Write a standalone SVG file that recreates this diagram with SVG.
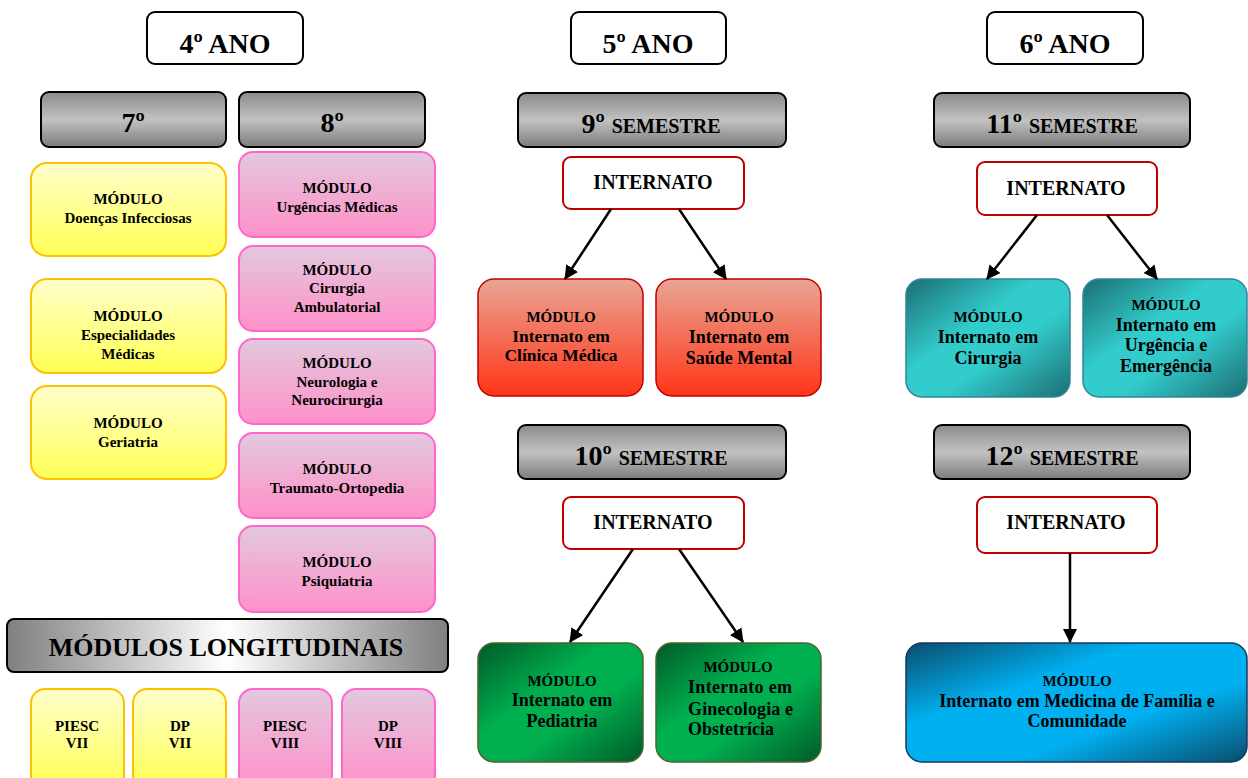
<svg xmlns="http://www.w3.org/2000/svg" width="1248" height="778" viewBox="0 0 1248 778" font-family="'Liberation Serif', 'DejaVu Serif', serif">
<defs>
<linearGradient id="gYel" x1="0" y1="0" x2="0" y2="1"><stop offset="0" stop-color="#FFFFCC"/><stop offset="1" stop-color="#FFFF55"/></linearGradient>
<linearGradient id="gPink" x1="0" y1="0" x2="0" y2="1"><stop offset="0" stop-color="#E2C8DE"/><stop offset="1" stop-color="#FF90C8"/></linearGradient>
<linearGradient id="gGray" x1="0" y1="0" x2="0" y2="1"><stop offset="0" stop-color="#8A8A8A"/><stop offset="0.5" stop-color="#C2C2C2"/><stop offset="1" stop-color="#7C7C7C"/></linearGradient>
<linearGradient id="gLong" x1="0" y1="0" x2="1" y2="0"><stop offset="0" stop-color="#808080"/><stop offset="0.5" stop-color="#FFFFFF"/><stop offset="1" stop-color="#808080"/></linearGradient>
<linearGradient id="gRed" x1="0" y1="0" x2="0" y2="1"><stop offset="0" stop-color="#E9A595"/><stop offset="1" stop-color="#FF3517"/></linearGradient>
<linearGradient id="gTeal" x1="0" y1="0" x2="1" y2="1"><stop offset="0" stop-color="#1B6E73"/><stop offset="0.4" stop-color="#33CCCC"/><stop offset="0.6" stop-color="#33CCCC"/><stop offset="1" stop-color="#1B6E73"/></linearGradient>
<linearGradient id="gGreen" x1="0" y1="0" x2="1" y2="1"><stop offset="0" stop-color="#005A28"/><stop offset="0.4" stop-color="#00B050"/><stop offset="0.6" stop-color="#00B050"/><stop offset="1" stop-color="#005A28"/></linearGradient>
<linearGradient id="gBlue" x1="0" y1="0" x2="1" y2="1"><stop offset="0" stop-color="#0A4D6E"/><stop offset="0.35" stop-color="#00B0F0"/><stop offset="0.65" stop-color="#00B0F0"/><stop offset="1" stop-color="#0A4D6E"/></linearGradient>
<marker id="arrB" markerWidth="14" markerHeight="14" refX="13" refY="7" orient="auto" markerUnits="userSpaceOnUse" viewBox="0 0 14 14"><path d="M0,0 L14,7 L0,14 z" fill="#000"/></marker>
</defs>
<style>
text{font-family:'Liberation Serif','DejaVu Serif',serif;font-weight:bold;fill:#000;text-anchor:middle}
.hdr{fill:#fff;stroke:#000;stroke-width:2}
.gray{fill:url(#gGray);stroke:#000;stroke-width:2}
.yel{fill:url(#gYel);stroke:#FFC000;stroke-width:2}
.pink{fill:url(#gPink);stroke:#FF66CC;stroke-width:2}
.intn{fill:#fff;stroke:#C00000;stroke-width:2}
.red{fill:url(#gRed);stroke:#C00000;stroke-width:1.5}
.teal{fill:url(#gTeal);stroke:#31849B;stroke-width:1.5}
.green{fill:url(#gGreen);stroke:#4F6228;stroke-width:1.5}
.blue{fill:url(#gBlue);stroke:#17375E;stroke-width:1.5}
.big{font-size:28px}
.int{font-size:20px}
.m{font-size:15px}
.m2{font-size:17.5px}
.m3{font-size:18px}
.st{text-anchor:start}
.conn line{stroke:#000;stroke-width:2.5}
</style>

<g id="ano4"><rect class="hdr" x="147" y="12" width="156" height="52" rx="8"/><text class="big" x="225" y="53">4º ANO</text></g>
<g id="ano5"><rect class="hdr" x="571" y="12" width="155" height="52" rx="8"/><text class="big" x="648" y="53">5º ANO</text></g>
<g id="ano6"><rect class="hdr" x="987" y="12" width="156" height="52" rx="8"/><text class="big" x="1065" y="53">6º ANO</text></g>

<g id="sem7"><rect class="gray" x="41" y="92" width="185" height="55" rx="8"/><text class="big" x="133" y="132">7º</text></g>
<g id="sem8"><rect class="gray" x="239" y="92" width="186" height="55" rx="8"/><text class="big" x="332" y="132">8º</text></g>
<g id="sem9"><rect class="gray" x="518" y="93" width="268" height="54" rx="8"/><text x="651" y="133"><tspan font-size="28">9º </tspan><tspan font-size="20">SEMESTRE</tspan></text></g>
<g id="sem10"><rect class="gray" x="518" y="425" width="268" height="54" rx="8"/><text x="651" y="465"><tspan font-size="28">10º </tspan><tspan font-size="20">SEMESTRE</tspan></text></g>
<g id="sem11"><rect class="gray" x="934" y="93" width="256" height="54" rx="8"/><text x="1062" y="133"><tspan font-size="28">11º </tspan><tspan font-size="20">SEMESTRE</tspan></text></g>
<g id="sem12"><rect class="gray" x="934" y="425" width="256" height="54" rx="8"/><text x="1062" y="465"><tspan font-size="28">12º </tspan><tspan font-size="20">SEMESTRE</tspan></text></g>

<g id="m-doencas"><rect class="yel" x="31" y="163" width="195" height="93" rx="16"/><text class="m" x="128" y="204">MÓDULO</text><text class="m" x="128" y="223">Doenças Infecciosas</text></g>
<g id="m-especialidades"><rect class="yel" x="31" y="279" width="195" height="94" rx="16"/><text class="m" x="128" y="321">MÓDULO</text><text class="m" x="128" y="340">Especialidades</text><text class="m" x="128" y="359">Médicas</text></g>
<g id="m-geriatria"><rect class="yel" x="31" y="386" width="195" height="93" rx="16"/><text class="m" x="128" y="428">MÓDULO</text><text class="m" x="128" y="447">Geriatria</text></g>

<g id="m-urgencias"><rect class="pink" x="239" y="152" width="196" height="85" rx="14"/><text class="m" x="337" y="193">MÓDULO</text><text class="m" x="337" y="212">Urgências Médicas</text></g>
<g id="m-cirurgia-amb"><rect class="pink" x="239" y="246" width="196" height="85" rx="14"/><text class="m" x="337" y="275">MÓDULO</text><text class="m" x="337" y="293">Cirurgia</text><text class="m" x="337" y="312">Ambulatorial</text></g>
<g id="m-neuro"><rect class="pink" x="239" y="339" width="196" height="85" rx="14"/><text class="m" x="337" y="368">MÓDULO</text><text class="m" x="337" y="387">Neurologia e</text><text class="m" x="337" y="405">Neurocirurgia</text></g>
<g id="m-traumato"><rect class="pink" x="239" y="433" width="196" height="85" rx="14"/><text class="m" x="337" y="474">MÓDULO</text><text class="m" x="337" y="493">Traumato-Ortopedia</text></g>
<g id="m-psiquiatria"><rect class="pink" x="239" y="526" width="196" height="86" rx="14"/><text class="m" x="337" y="567">MÓDULO</text><text class="m" x="337" y="586">Psiquiatria</text></g>

<g id="longitudinais"><rect x="7" y="619" width="441" height="53" rx="7" fill="url(#gLong)" stroke="#000" stroke-width="2"/><text x="226" y="656" font-size="26">MÓDULOS LONGITUDINAIS</text></g>
<g id="piesc7"><rect class="yel" x="31" y="689" width="93" height="100" rx="14"/><text class="m" x="77" y="731">PIESC</text><text class="m" x="77" y="748">VII</text></g>
<g id="dp7"><rect class="yel" x="133" y="689" width="93" height="100" rx="14"/><text class="m" x="180" y="731">DP</text><text class="m" x="180" y="748">VII</text></g>
<g id="piesc8"><rect class="pink" x="239" y="689" width="93" height="100" rx="14"/><text class="m" x="285" y="731">PIESC</text><text class="m" x="285" y="748">VIII</text></g>
<g id="dp8"><rect class="pink" x="342" y="689" width="93" height="100" rx="14"/><text class="m" x="388" y="731">DP</text><text class="m" x="388" y="748">VIII</text></g>

<g id="int9"><rect class="intn" x="563" y="157" width="181" height="52" rx="8"/><text class="int" x="653" y="189">INTERNATO</text></g>
<g id="int10"><rect class="intn" x="563" y="497" width="181" height="52" rx="8"/><text class="int" x="653" y="529">INTERNATO</text></g>
<g id="int11"><rect class="intn" x="977" y="162" width="180" height="53" rx="8"/><text class="int" x="1066" y="195">INTERNATO</text></g>
<g id="int12"><rect class="intn" x="977" y="497" width="180" height="56" rx="8"/><text class="int" x="1066" y="529">INTERNATO</text></g>

<g id="m-clinica"><rect class="red" x="478" y="279" width="165" height="117" rx="16"/><text class="m" x="561" y="322">MÓDULO</text><text class="m2" x="561" y="342">Internato em</text><text class="m2" x="561" y="361">Clínica Médica</text></g>
<g id="m-saude"><rect class="red" x="656" y="279" width="165" height="117" rx="16"/><text class="m" x="739" y="322">MÓDULO</text><text class="m3" x="739" y="343">Internato em</text><text class="m3" x="739" y="364">Saúde Mental</text></g>

<g id="m-pediatria"><rect class="green" x="478" y="643" width="165" height="119" rx="16"/><text class="m" x="562" y="686">MÓDULO</text><text class="m3" x="562" y="706">Internato em</text><text class="m3" x="562" y="727">Pediatria</text></g>
<g id="m-gineco"><rect class="green" x="656" y="643" width="165" height="119" rx="16"/><text class="m" x="738" y="672">MÓDULO</text><text class="m3 st" x="688" y="693" textLength="104" lengthAdjust="spacing">Internato  em</text><text class="m3 st" x="688" y="715" textLength="105" lengthAdjust="spacing">Ginecologia  e</text><text class="m3 st" x="688" y="735">Obstetrícia</text></g>

<g id="m-cirurgia"><rect class="teal" x="906" y="279" width="164" height="118" rx="16"/><text class="m" x="988" y="322">MÓDULO</text><text class="m3" x="988" y="343">Internato em</text><text class="m3" x="988" y="364">Cirurgia</text></g>
<g id="m-urgencia"><rect class="teal" x="1083" y="279" width="164" height="118" rx="16"/><text class="m" x="1166" y="310">MÓDULO</text><text class="m3" x="1166" y="331">Internato em</text><text class="m3" x="1166" y="351">Urgência e</text><text class="m3" x="1166" y="372">Emergência</text></g>

<g id="m-familia"><rect class="blue" x="906" y="643" width="341" height="119" rx="16"/><text class="m" x="1077" y="686">MÓDULO</text><text class="m3" x="1077" y="707">Internato em Medicina de Família e</text><text class="m3" x="1077" y="727">Comunidade</text></g>

<g id="connectors" class="conn">
<line x1="611" y1="209" x2="565" y2="279" marker-end="url(#arrB)"/>
<line x1="679" y1="209" x2="726" y2="279" marker-end="url(#arrB)"/>
<line x1="633" y1="549" x2="570" y2="642" marker-end="url(#arrB)"/>
<line x1="679" y1="549" x2="743" y2="642" marker-end="url(#arrB)"/>
<line x1="1037" y1="215" x2="987" y2="279" marker-end="url(#arrB)"/>
<line x1="1107" y1="215" x2="1157" y2="279" marker-end="url(#arrB)"/>
<line x1="1070" y1="553" x2="1070" y2="642" marker-end="url(#arrB)"/>
</g>
</svg>
